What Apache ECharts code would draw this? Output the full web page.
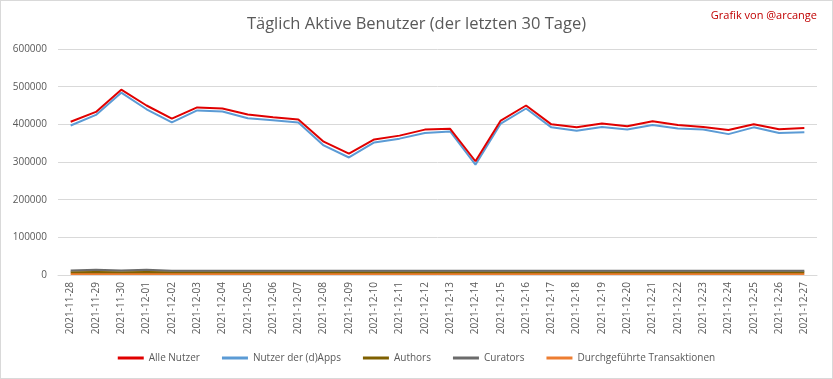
<!DOCTYPE html>
<html><head><meta charset="utf-8">
<script src="https://cdn.jsdelivr.net/npm/echarts@6/dist/echarts.min.js"></script>
<style>html,body{margin:0;padding:0;background:#fff}#c{width:833px;height:379px;box-sizing:border-box;border:1px solid #d9d9d9}</style>
</head><body><div id="c"></div>
<script>
const categories = ['2021-11-28','2021-11-29','2021-11-30','2021-12-01','2021-12-02','2021-12-03','2021-12-04','2021-12-05','2021-12-06','2021-12-07','2021-12-08','2021-12-09','2021-12-10','2021-12-11','2021-12-12','2021-12-13','2021-12-14','2021-12-15','2021-12-16','2021-12-17','2021-12-18','2021-12-19','2021-12-20','2021-12-21','2021-12-22','2021-12-23','2021-12-24','2021-12-25','2021-12-26','2021-12-27'];
const alleNutzer = [407000,433000,492000,450000,415000,445000,442000,426000,419000,413000,354000,322000,360000,370000,386000,388000,302000,410000,450000,400000,392000,402000,395000,408000,398000,393000,385000,400000,387000,390000];
const dappsNutzer = [397000,425000,484000,440000,405000,437000,434000,416000,411000,405000,344000,312000,352000,362000,377000,381000,293000,402000,442000,392000,383000,393000,386000,398000,389000,386000,374000,392000,377000,379000];
const authors = [7500,8000,7500,8000,7000,7000,7000,7000,7000,7000,7000,7000,7000,7000,7000,7000,7000,7000,7000,7000,7000,7000,7000,7000,7000,7000,7000,7000,7000,7000];
const curators = [12000,14000,12000,14000,11500,11500,11500,11500,11500,11500,11500,11500,11500,11500,11500,11500,11500,11500,11500,11500,11500,11500,11500,11500,11500,11500,11500,11500,11500,11500];
const transaktionen = [2500,2500,2500,2500,2500,2500,2500,2500,2500,2500,2500,2500,2500,2500,2500,2500,2500,2500,2500,2500,2500,2500,2500,2500,2500,2500,2500,2500,2500,2500];
const yTicks = [0,100000,200000,300000,400000,500000,600000];

const font = '"Open Sans", "Liberation Sans", sans-serif';
const chart = echarts.init(document.getElementById('c'));
function line(name, data, color){
  return {name, type:'line', data, symbol:'none', lineStyle:{width:2, color}, itemStyle:{color}, animation:false};
}
chart.setOption({
  animation:false,
  title:[
    {text:'Täglich Aktive Benutzer (der letzten 30 Tage)', left:'center', top:10, textStyle:{fontFamily:font, fontSize:16.5, fontWeight:'normal', color:'#595959'}},
    {text:'Grafik von @arcange', right:10, top:4, textStyle:{fontFamily:font, fontSize:11, fontWeight:'normal', color:'#c00000'}}
  ],
  grid:{left:57, right:15, top:48, bottom:103, containLabel:false},
  legend:{bottom:10, left:'center', itemWidth:26, itemHeight:3, itemGap:22, icon:'rect',
    textStyle:{fontFamily:font, fontSize:10, color:'#595959'},
    data:['Alle Nutzer','Nutzer der (d)Apps','Authors','Curators','Durchgeführte Transaktionen']},
  xAxis:{type:'category', data:categories, boundaryGap:true,
    axisLine:{lineStyle:{color:'#d9d9d9'}}, axisTick:{show:false},
    axisLabel:{rotate:90, interval:0, fontFamily:font, fontSize:10, color:'#595959', margin:7}},
  yAxis:{type:'value', min:0, max:600000, interval:100000,
    axisLine:{show:false}, axisTick:{show:false},
    splitLine:{lineStyle:{color:'#d9d9d9'}},
    axisLabel:{fontFamily:font, fontSize:10, color:'#595959', margin:11,
      formatter:v=> yTicks.includes(v) ? String(v) : ''}},
  series:[
    line('Durchgeführte Transaktionen', transaktionen, '#ed7d31'),
    line('Authors', authors, '#7f6000'),
    line('Curators', curators, '#6b6b6b'),
    line('Nutzer der (d)Apps', dappsNutzer, '#5b9bd5'),
    line('Alle Nutzer', alleNutzer, '#e00000')
  ]
});
</script></body></html>
